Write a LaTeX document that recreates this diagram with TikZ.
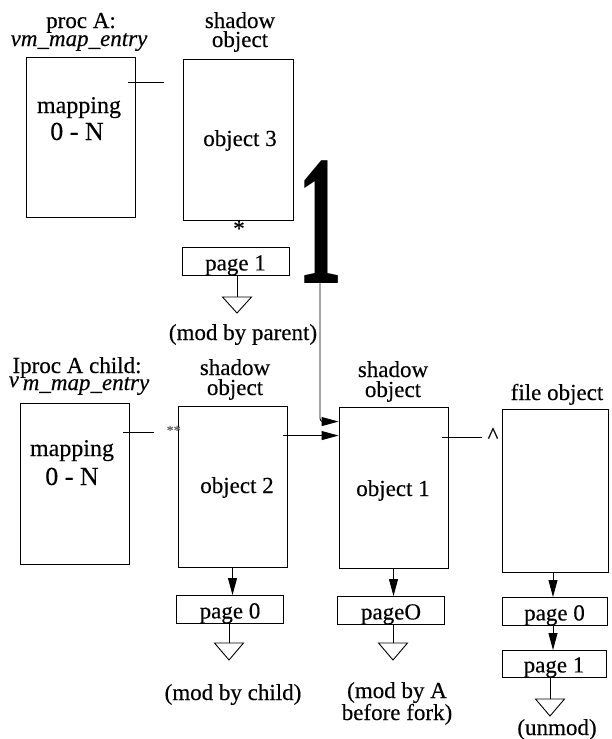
\documentclass[tikz,border=0pt]{standalone}
\usepackage{graphicx}
\usepackage{fontspec}
\setmainfont{Liberation Serif}[FakeBold=0.3]
\newfontfamily\bigonefont{Liberation Serif}
\usetikzlibrary{arrows.meta,calc}
\begin{document}
\begin{tikzpicture}[x=1pt,y=-1pt,
  font=\fontsize{23}{20}\selectfont,
  wire/.style={line width=0.9pt},
  arr/.style={line width=0.9pt,-{Triangle[length=17pt,width=9pt]}},
  bigbox/.style={draw,line width=0.9pt,inner sep=0pt,minimum width=109pt,minimum height=161pt},
  pagebox/.style={draw,line width=0.9pt,inner sep=0pt,minimum width=107pt,text height=23pt,text depth=5pt,anchor=north},
  lbl/.style={inner sep=0pt,anchor=base},
  mapfont/.style={font=\fontsize{24}{20}\selectfont},
  rangefont/.style={font=\fontsize{26}{20}\selectfont},
  gtri/.style={line width=0.9pt}]
\useasboundingbox (0,0) rectangle (612,739);

% top row
\node[lbl] (hA1) at (81,28) {proc A:};
\node[lbl] (hA2) at (79,46) {\itshape vm\_map\_entry};
\node[bigbox, minimum height=160pt] (mapA) at (80.5,137) {};
\node[lbl, mapfont] (mA1) at (79,113) {mapping};
\node[lbl, rangefont] (mA2) at (77,140) {0 - N};

\node[lbl] (h31) at (240,28) {shadow};
\node[lbl] (h32) at (240,47) {object};
\node[bigbox, minimum width=110pt] (obj3) at (238,139.5) {};
\node[lbl] (o3) at (240,146) {object 3};
\node[lbl] (star) at (239,236) {*};

\node[pagebox] (pg1a) at (235.5,247) {page 1};
\coordinate (t1) at (237,297);
\node[lbl] (modp) at (243,340) {(mod by parent)};

\node[lbl] (one) at (320,283) {\scalebox{0.49}[1]{\bigonefont\bfseries\fontsize{186}{186}\selectfont 1}};

% bottom row
\node[lbl] (hB1) at (77,373) {Iproc A child:};
\node[lbl] (hB2) at (79,390) {\itshape \raisebox{3pt}{v}\,m\_map\_entry};
\node[bigbox] (mapB) at (74.5,483.5) {};
\node[lbl, mapfont] (mB1) at (72,456) {mapping};
\node[lbl, rangefont] (mB2) at (72,485) {0 - N};

\node[lbl] (h21) at (235,375) {shadow};
\node[lbl] (h22) at (235,395) {object};
\node[bigbox] (obj2) at (232.5,486.5) {};
\node[lbl] (o2) at (237,493) {object 2};
\node[lbl, font=\fontsize{14}{14}\selectfont\itshape, text=black!60] (dstar) at (173,435) {**};

\node[lbl] (h11) at (393,377) {shadow};
\node[lbl] (h12) at (393,397) {object};
\node[bigbox] (obj1) at (393.5,487.5) {};
\node[lbl] (o1) at (393,496) {object 1};
\node[lbl] (caret) at (493,443) {\textasciicircum};

\node[lbl] (hf) at (557,400) {file object};
\node[bigbox, minimum width=106pt, minimum height=163pt] (file) at (555,490.5) {};

\node[pagebox] (pg0b) at (230,595) {page 0};
\node[pagebox] (pg0c) at (391,596) {pageO};
\node[pagebox, minimum width=105pt] (pg0d) at (554.5,597) {page 0};
\node[pagebox, minimum width=104pt, text height=22pt] (pg1d) at (554,650) {page 1};

\coordinate (t2) at (229,643);
\coordinate (t3) at (393,643);
\coordinate (t4) at (550,699);

\node[lbl] (modc) at (233,700) {(mod by child)};
\node[lbl] (moda1) at (397,698) {(mod by A};
\node[lbl] (moda2) at (397,720) {before fork)};
\node[lbl] (unmod) at (557,735) {(unmod)};

% connectors
\draw[wire] ($(mapA.north east)+(-7,26)$) -- ++(36,0);
\draw[wire] ($(mapB.north east)+(-6,30)$) -- ++(31,0);
\draw[wire] ($(obj1.north east)+(-6,31)$) -- ++(40,0);
\draw[arr] ($(obj2.north east)+(-4,30)$) coordinate (a2) -- (a2 -| obj1.west);

\draw[wire, rounded corners=3pt] (one.south) |- ($(obj1.north west)+(-17,15)$) coordinate (hk);
\draw[arr] (hk) -- (hk -| obj1.west);

\draw[arr] (obj2.south) -- (obj2.south |- pg0b.north);
\draw[arr] (obj1.south) -- (obj1.south |- pg0c.north);
\draw[arr] ($(file.south)+(-2,0)$) coordinate (fa) -- (fa |- pg0d.north);
\draw[arr] (pg0d.south -| fa) -- (pg1d.north -| fa);

\draw[wire] (pg1a.south -| t1) -- (t1);
\draw[wire] (pg0b.south -| t2) -- (t2);
\draw[wire] (pg0c.south -| t3) -- (t3);
\draw[wire] (pg1d.south -| t4) -- (t4);

\draw[gtri] (t1) ++(-14.5,0) -- ++(29,0) -- ++(-14.5,16) -- cycle;
\draw[gtri] (t2) ++(-14.5,0) -- ++(29,0) -- ++(-14.5,17) -- cycle;
\draw[gtri] (t3) ++(-14.5,0) -- ++(29,0) -- ++(-14.5,17) -- cycle;
\draw[gtri] (t4) ++(-14.5,0) -- ++(29,0) -- ++(-14.5,17) -- cycle;
\end{tikzpicture}
\end{document}
